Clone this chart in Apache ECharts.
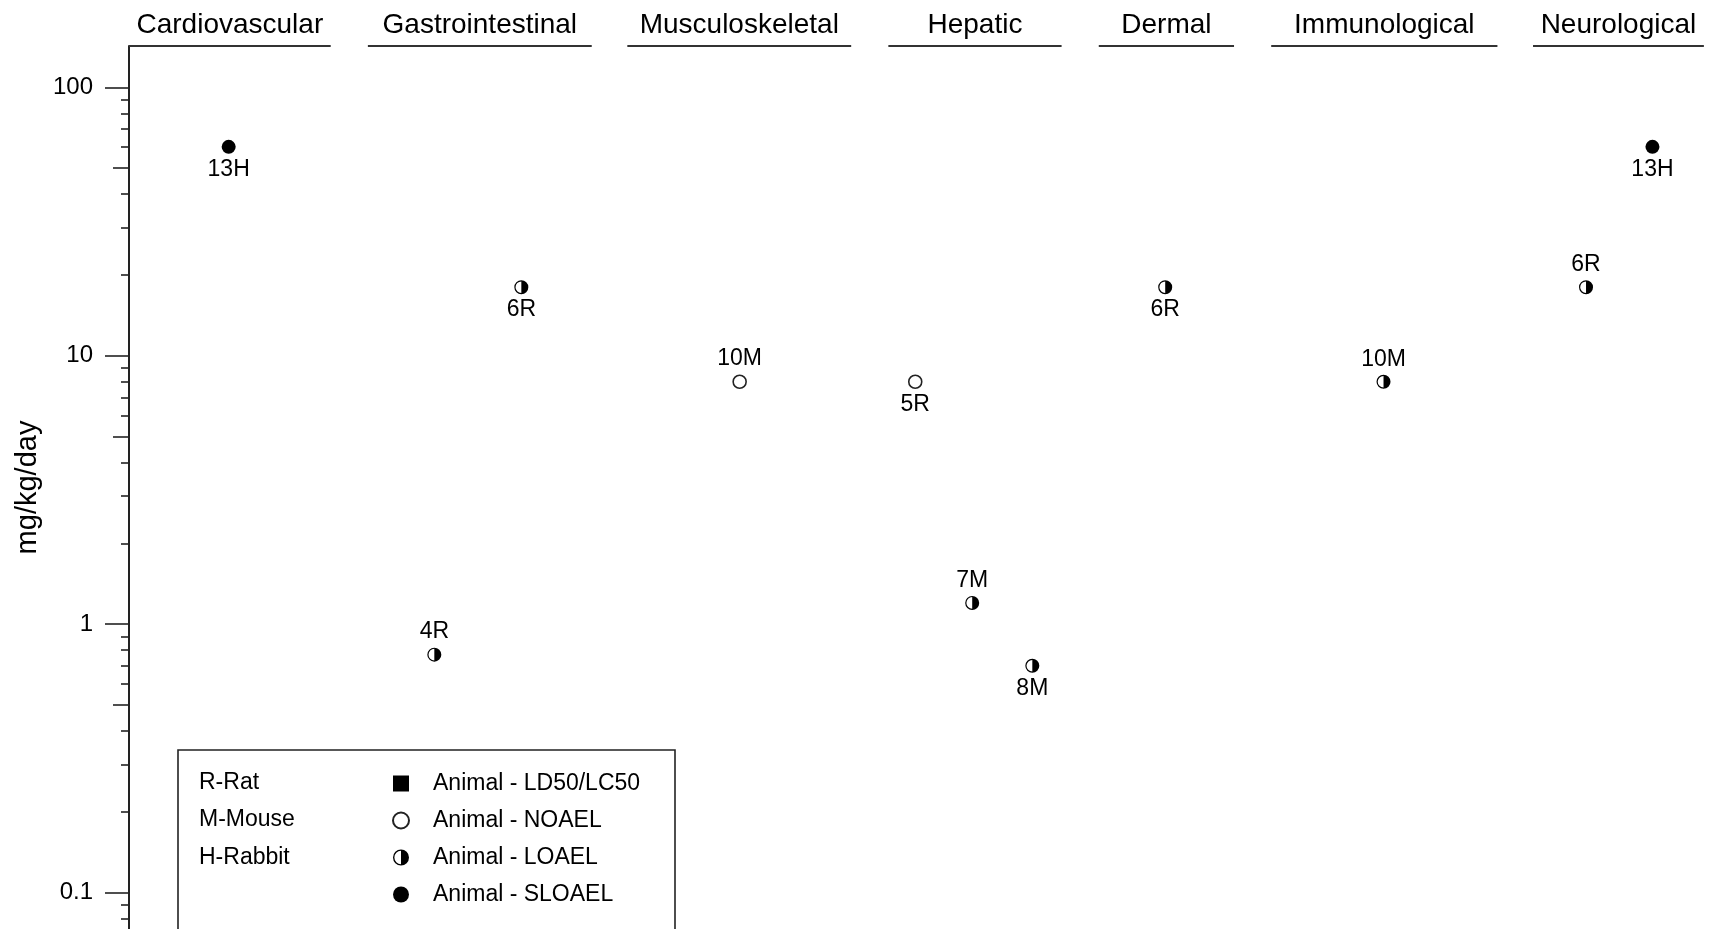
<!DOCTYPE html>
<html>
<head>
<meta charset="utf-8">
<title>Health effects by organ system (mg/kg/day)</title>
<script src="https://cdn.jsdelivr.net/npm/echarts@6/dist/echarts.min.js"></script>
<style>
  html, body { margin: 0; padding: 0; background: #ffffff; }
  #chart { width: 1711px; height: 929px; }
</style>
</head>
<body>
<div id="chart"></div>
<script>
// Organ-system sections along the horizontal position axis (0–100)
const categories = ['Cardiovascular', 'Gastrointestinal', 'Musculoskeletal', 'Hepatic', 'Dermal', 'Immunological', 'Neurological'];
const sectionStart = [0, 15.1, 31.5, 48.0, 61.3, 72.2, 88.75];
const sectionEnd = [12.75, 29.25, 45.65, 58.95, 69.85, 86.5, 99.55];

// Study points: study number + species code, position, dose and endpoint
const pointLabels = ['13H', '4R', '6R', '10M', '5R', '7M', '8M', '6R', '10M', '6R', '13H'];
const pointPos = [6.3, 19.3, 24.8, 38.6, 49.7, 53.3, 57.1, 65.5, 79.3, 92.1, 96.3];
const doses = [60, 0.77, 18, 8, 8, 1.2, 0.7, 18, 8, 18, 60];
const endpoints = ['SLOAEL', 'LOAEL', 'LOAEL', 'NOAEL', 'NOAEL', 'LOAEL', 'LOAEL', 'LOAEL', 'LOAEL', 'LOAEL', 'SLOAEL'];

// Dose axis ticks
const majorTicks = [0.1, 1, 10, 100];
const midTicks = [0.5, 5, 50];
const minorTicks = [0.08, 0.09, 0.2, 0.3, 0.4, 0.6, 0.7, 0.8, 0.9, 2, 3, 4, 6, 7, 8, 9, 20, 30, 40, 60, 70, 80, 90];

// Species key
const speciesKey = ['R-Rat', 'M-Mouse', 'H-Rabbit'];
const endpointTypes = ['LD50/LC50', 'NOAEL', 'LOAEL', 'SLOAEL'];

// Label placement for each point (above or below the marker)
const labelSide = ['bottom', 'top', 'bottom', 'top', 'bottom', 'top', 'bottom', 'bottom', 'top', 'top', 'bottom'];

const FONT = '"Liberation Sans", Arial, Helvetica, sans-serif';
const INK = '#000000';
const Y_MIN = 0.0732;
const Y_MAX = 142.5;

// Half-filled circle: outline with the right half solid
const HALF_CIRCLE = 'path://M10 0A10 10 0 0 1 10 20A10 10 0 0 1 10 0Z M10 1.7A8.3 8.3 0 0 0 10 18.3L10 1.7Z';
const SQUARE = 'path://M0 0H10V10H0Z';

const symbolFor = {
  'LD50/LC50': { symbol: SQUARE, size: 14, itemStyle: { color: '#000', opacity: 1 } },
  'NOAEL': { symbol: 'circle', size: 13, itemStyle: { color: '#fff', borderColor: '#222', borderWidth: 1.6, opacity: 1 } },
  'LOAEL': { symbol: HALF_CIRCLE, size: 14, itemStyle: { color: '#000', opacity: 1 } },
  'SLOAEL': { symbol: 'circle', size: 14, itemStyle: { color: '#000', opacity: 1 } }
};

function seriesFor(type) {
  const data = [];
  doses.forEach((d, i) => {
    if (endpoints[i] !== type) return;
    data.push({
      value: [pointPos[i], d],
      name: pointLabels[i],
      label: { position: labelSide[i] }
    });
  });
  const sym = symbolFor[type];
  return {
    name: 'Animal - ' + type,
    type: 'scatter',
    xAxisIndex: 0,
    yAxisIndex: 0,
    symbol: sym.symbol,
    symbolSize: sym.size,
    itemStyle: sym.itemStyle,
    label: {
      show: true,
      formatter: p => p.name,
      distance: 4,
      fontFamily: FONT,
      fontSize: 23,
      color: INK
    },
    emphasis: { disabled: true },
    z: 5,
    data: data
  };
}

function tickAxis(values, len, extra) {
  return Object.assign({
    type: 'log',
    logBase: 10,
    min: Y_MIN,
    max: Y_MAX,
    position: 'left',
    offset: 0,
    axisLine: { show: false },
    axisTick: { show: true, length: len, customValues: values, lineStyle: { color: '#222', width: 1.6 } },
    axisLabel: { show: false },
    splitLine: { show: false }
  }, extra || {});
}

const chart = echarts.init(document.getElementById('chart'), null, { renderer: 'canvas' });

const option = {
  backgroundColor: '#ffffff',
  animation: false,
  grid: { left: 129, right: 0, top: 46, bottom: 0, containLabel: false },
  xAxis: {
    type: 'value',
    min: 0,
    max: 100,
    show: false
  },
  yAxis: [
    tickAxis(majorTicks, 24, {
      axisLine: { show: true, lineStyle: { color: '#222', width: 2 } },
      axisLabel: {
        show: true,
        customValues: majorTicks,
        margin: 36,
        fontFamily: FONT,
        fontSize: 24,
        color: INK,
        formatter: v => String(v)
      },
      name: 'mg/kg/day',
      nameLocation: 'middle',
      nameGap: 86,
      nameRotate: 90,
      nameTextStyle: { fontFamily: FONT, fontSize: 29, color: INK }
    }),
    tickAxis(midTicks, 16),
    tickAxis(minorTicks, 8)
  ],
  legend: {
    orient: 'vertical',
    left: 387,
    top: 767,
    itemWidth: 16,
    itemHeight: 16,
    itemGap: 14,
    selectedMode: false,
    data: endpointTypes.map(t => 'Animal - ' + t),
    formatter: name => '{t|' + name + '}',
    textStyle: {
      fontFamily: FONT,
      fontSize: 23,
      color: INK,
      rich: { t: { fontFamily: FONT, fontSize: 23, color: INK, lineHeight: 25, padding: [0, 0, 0, 19] } }
    },
    z: 10
  },
  graphic: [
    {
      type: 'rect',
      z: 8,
      shape: { x: 178, y: 750, width: 497, height: 260 },
      style: { fill: '#ffffff', stroke: '#222', lineWidth: 1.6 }
    }
  ].concat(speciesKey.map((s, i) => ({
    type: 'text',
    z: 9,
    left: 199,
    top: 784 + i * 37.5 - 13,
    style: { text: s, font: '23px ' + FONT, fill: INK }
  }))),
  series: [
    {
      type: 'custom',
      name: 'sections',
      clip: false,
      silent: true,
      z: 3,
      data: categories.map((c, i) => [sectionStart[i], sectionEnd[i]]),
      renderItem: function (params, api) {
        const s = api.coord([api.value(0), Y_MAX]);
        const e = api.coord([api.value(1), Y_MAX]);
        return {
          type: 'group',
          children: [
            {
              type: 'line',
              shape: { x1: s[0], y1: s[1], x2: e[0], y2: e[1] },
              style: { stroke: '#333', lineWidth: 2 }
            },
            {
              type: 'text',
              style: {
                text: categories[params.dataIndex],
                x: (s[0] + e[0]) / 2,
                y: s[1] - 7,
                align: 'center',
                verticalAlign: 'bottom',
                font: '28px ' + FONT,
                fill: INK
              }
            }
          ]
        };
      }
    }
  ].concat(endpointTypes.map(seriesFor))
};

chart.setOption(option);
</script>
</body>
</html>
